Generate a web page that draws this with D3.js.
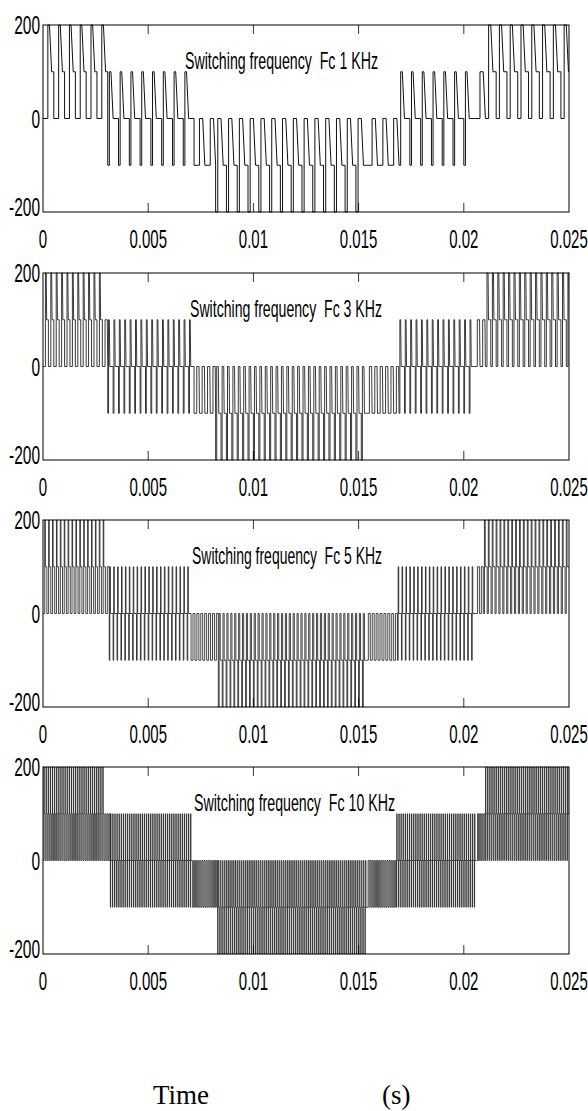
<!DOCTYPE html>
<html>
<head>
<meta charset="utf-8">
<script src="https://cdn.jsdelivr.net/npm/d3@7"></script>
<style>
  body { margin: 0; background: #fff; }
  text { font-family: "Liberation Sans", Arial, sans-serif; fill: #000; }
  .title { white-space: pre; }
</style>
</head>
<body>
<div id="chart"></div>
<script>
// carrier frequency of each panel (kHz), from the titles
const carrierKHz = [1, 3, 5, 10];
const pulseRate = [1950, 3900, 5400, 10000];

// level bands of the 5-level output (s, V)
const segStart = [0, 0.0029, 0.0032, 0.0071, 0.0083, 0.0154, 0.0168, 0.0206, 0.0210];
const segEnd = [0.0029, 0.0032, 0.0071, 0.0083, 0.0154, 0.0168, 0.0206, 0.0210, 0.025];
const segLow = [0, 0, -100, -100, -200, -100, -100, 0, 0];
const segHigh = [200, 100, 100, 0, 0, 0, 100, 100, 200];
// share of a switching period spent at the low / high level
const segLowFrac = [0.45, 0.5, 0.15, 0.5, 0.2, 0.5, 0.15, 0.5, 0.3];
const segHighFrac = [0.15, 0.5, 0.15, 0.5, 0.3, 0.5, 0.15, 0.5, 0.2];
// falling edge slope from the sampling (share of period)
const edgeSlant = [0.2, 0.08, 0, 0];

const xTicks = [0, 0.005, 0.01, 0.015, 0.02, 0.025];
const xTickLabels = ["0", "0.005", "0.01", "0.015", "0.02", "0.025"];
const yTicks = [-200, 0, 200];

// layout
const width = 588, height = 1111;
const plotLeft = 43, plotRight = 569, plotH = 187;
const panelTop = [25, 273, 520, 767];
const titleX = [185, 190, 192, 194];
const titleLen = [193, 192, 190, 201];
const strokeW = [1, 0.9, 0.85, 0.75];
const strokeC = ["#111", "#222", "#222", "#1a1a1a"];

const svg = d3.select("#chart").append("svg")
  .attr("width", width)
  .attr("height", height);

const x = d3.scaleLinear().domain([0, 0.025]).range([plotLeft, plotRight]);

function segmentAt(t) {
  for (let i = 0; i < segStart.length; i++) {
    if (t >= segStart[i] && t < segEnd[i]) return i;
  }
  return segStart.length - 1;
}

// build the switched waveform of one panel from the bands
function buildWave(p) {
  const P = 1 / pulseRate[p];
  const n = Math.ceil(0.025 / P);
  const pts = [];
  for (let k = 0; k < n; k++) {
    const t0 = k * P;
    const s = segmentAt(t0 + P / 2);
    const lo = segLow[s], hi = segHigh[s];
    const mv = hi - lo > 100 ? lo + 100 : lo;
    const a = segLowFrac[s] * P;
    const sl = edgeSlant[p] * P;
    let b = segHighFrac[s] * P;
    if (a + b + sl > P) b = Math.max(0, P - a - sl);
    pts.push([t0, lo], [t0 + a, lo], [t0 + a, hi], [t0 + a + b, hi],
      [t0 + a + b + sl, mv], [t0 + P, mv]);
  }
  return pts;
}

panelTop.forEach((top, p) => {
  const y = d3.scaleLinear().domain([-200, 200]).range([top + plotH, top]);
  const g = svg.append("g");

  g.append("clipPath").attr("id", "clip" + p)
    .append("rect")
    .attr("x", plotLeft).attr("y", top - 1)
    .attr("width", plotRight - plotLeft).attr("height", plotH + 2);

  g.append("path")
    .datum(buildWave(p))
    .attr("clip-path", `url(#clip${p})`)
    .attr("fill", "none")
    .attr("stroke", strokeC[p])
    .attr("stroke-width", strokeW[p])
    .attr("d", d3.line().x(d => x(d[0])).y(d => y(d[1])));

  // frame
  g.append("rect")
    .attr("x", plotLeft).attr("y", top)
    .attr("width", plotRight - plotLeft).attr("height", plotH)
    .attr("fill", "none").attr("stroke", "#000").attr("stroke-width", 1);

  // inner ticks, top and bottom
  const inner = xTicks.slice(1, -1);
  g.selectAll("line.tt").data(inner).enter().append("line")
    .attr("x1", d => x(d)).attr("x2", d => x(d))
    .attr("y1", top).attr("y2", top + 9)
    .attr("stroke", "#000").attr("stroke-width", 0.8);
  g.selectAll("line.tb").data(inner).enter().append("line")
    .attr("x1", d => x(d)).attr("x2", d => x(d))
    .attr("y1", top + plotH).attr("y2", top + plotH - 9)
    .attr("stroke", "#000").attr("stroke-width", 0.8);

  // x tick labels
  g.selectAll("g.xl").data(xTicks).enter().append("g")
    .attr("transform", d => `translate(${x(d)},${top + plotH + 36})`)
    .append("text")
    .attr("transform", "scale(0.6,1)")
    .attr("text-anchor", "middle")
    .style("font-size", "25px")
    .text((d, i) => xTickLabels[i]);

  // y tick labels
  g.selectAll("g.yl").data(yTicks).enter().append("g")
    .attr("transform", d => `translate(40,${y(d) + (d === -200 ? 4 : 9)})`)
    .append("text")
    .attr("transform", "scale(0.62,1)")
    .attr("text-anchor", "end")
    .style("font-size", "25px")
    .text(d => d);

  // panel title
  g.append("text")
    .attr("class", "title")
    .attr("x", titleX[p])
    .attr("y", top + 44)
    .attr("textLength", titleLen[p])
    .attr("lengthAdjust", "spacingAndGlyphs")
    .style("font-size", "24px")
    .text(`Switching frequency  Fc ${carrierKHz[p]} KHz`);
});

// shared axis label
svg.append("text")
  .attr("x", 153).attr("y", 1104)
  .attr("font-family", "Liberation Serif")
  .style("font-family", "'Liberation Serif', 'Times New Roman', serif")
  .style("font-size", "27px")
  .text("Time");
svg.append("text")
  .attr("x", 382).attr("y", 1104)
  .style("font-family", "'Liberation Serif', 'Times New Roman', serif")
  .style("font-size", "27px")
  .text("(s)");
</script>
</body>
</html>
